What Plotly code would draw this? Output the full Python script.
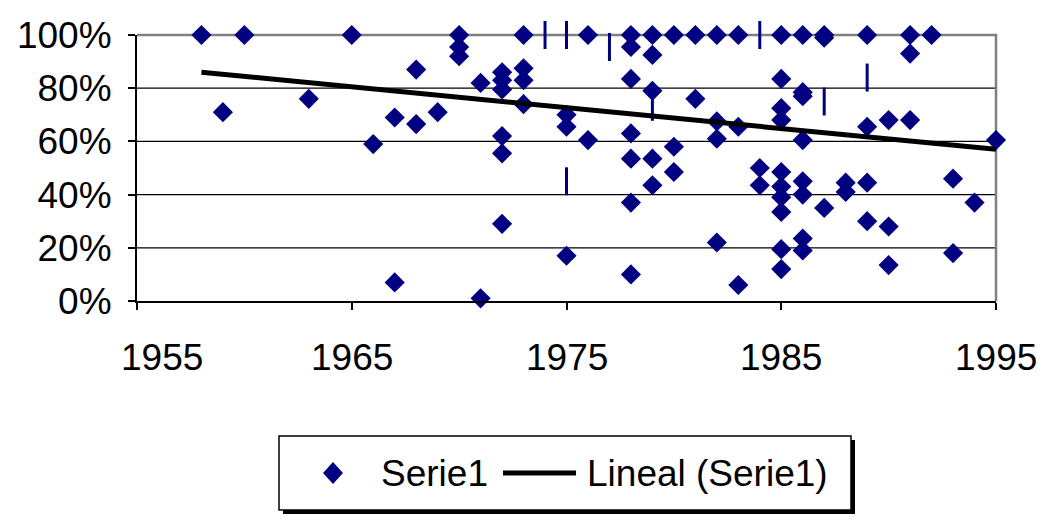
import plotly.graph_objects as go

W, H = 1045, 517

# Serie1: one entry per point (year, share in %)
years = [
    1958, 1959, 1960, 1963, 1965, 1966,
    1967, 1967,
    1968, 1968,
    1969,
    1970, 1970, 1970,
    1971, 1971,
    1972, 1972, 1972, 1972, 1972, 1972,
    1973, 1973, 1973, 1973,
    1975, 1975, 1975,
    1976, 1976,
    1978, 1978, 1978, 1978, 1978, 1978, 1978,
    1979, 1979, 1979, 1979, 1979,
    1980, 1980, 1980,
    1981, 1981,
    1982, 1982, 1982, 1982,
    1983, 1983, 1983,
    1984, 1984,
    1985, 1985, 1985, 1985, 1985, 1985, 1985, 1985, 1985, 1985,
    1986, 1986, 1986, 1986, 1986, 1986, 1986, 1986,
    1987, 1987, 1987,
    1988, 1988,
    1989, 1989, 1989, 1989,
    1990, 1990, 1990,
    1991, 1991, 1991,
    1992,
    1993, 1993,
    1994,
    1995,
]
values = [
    100, 71, 100, 76, 100, 59,
    69, 7,
    87, 66.5,
    71,
    100, 95.5, 92,
    82, 1,
    86, 83, 79.5, 62, 55.5, 29,
    100, 87.5, 83, 74,
    70, 65.5, 17,
    100, 60.5,
    100, 95.5, 83.5, 63, 53.5, 37, 10,
    100, 92.5, 79, 53.5, 43.5,
    100, 58, 48.5,
    100, 76,
    100, 67.5, 61, 22,
    100, 65.5, 6,
    50, 43.5,
    100, 83.5, 72.5, 68, 48.5, 43, 39, 33.5, 19.5, 12,
    100, 78.5, 77, 60.5, 45, 40, 23.5, 19,
    100, 99, 35,
    44.5, 41,
    100, 65.5, 44.5, 30,
    68, 28, 13.5,
    100, 93, 68,
    100,
    46, 18,
    37,
    60.5,
]

# points shown with a short vertical dash
dash_years = [1974, 1975, 1975, 1977, 1979, 1984, 1987, 1989]
dash_values = [100, 100, 45, 95.5, 73, 100, 75, 84]

# linear trend line of Serie1 (end points)
trend_years = [1958, 1995]
trend_values = [86, 57]

x_ticks = [1955, 1965, 1975, 1985, 1995]
y_ticks = [0, 20, 40, 60, 80, 100]
y_grid = [20, 40, 60, 80]
series_name = "Serie1"
trend_name = "Lineal (Serie1)"

NAVY = "#000080"
FONT = "Liberation Sans, Arial, sans-serif"
FS = 37


def px(x):
    return x / W


def py(y):
    return 1 - y / H


# plot area in pixels
L, R, T, B = 137, 996, 35, 301

fig = go.Figure()
fig.add_trace(go.Scatter(
    x=years, y=values, mode="markers", name=series_name,
    marker=dict(symbol="diamond", size=15.5, color=NAVY, line=dict(width=0)),
    cliponaxis=False, showlegend=False,
))
fig.add_trace(go.Scatter(
    x=dash_years, y=dash_values, mode="markers",
    marker=dict(symbol="line-ns", size=20, color=NAVY, line=dict(width=3, color=NAVY)),
    cliponaxis=False, showlegend=False,
))
fig.add_trace(go.Scatter(
    x=trend_years, y=trend_values, mode="lines", name=trend_name,
    line=dict(color="black", width=5), showlegend=False,
))

shapes = []
# horizontal gridlines
for g in y_grid:
    shapes.append(dict(type="line", xref="x domain", yref="y", x0=0, x1=1, y0=g, y1=g,
                       line=dict(color="black", width=1.3), layer="below"))
# gray plot-area border (top and right)
shapes.append(dict(type="path", xref="x domain", yref="y domain",
                   path="M 0,1 L 1,1 L 1,0",
                   line=dict(color="#808080", width=2.5), layer="below"))

# legend box with shadow
lx0, lx1, ly0, ly1 = 279, 851, 436, 510
shapes.append(dict(type="rect", xref="paper", yref="paper",
                   x0=px(lx0 + 4), x1=px(lx1 + 4), y0=py(ly1 + 4), y1=py(ly0 + 4),
                   line=dict(width=0), fillcolor="black"))
shapes.append(dict(type="rect", xref="paper", yref="paper",
                   x0=px(lx0), x1=px(lx1), y0=py(ly1), y1=py(ly0),
                   line=dict(color="black", width=1.5), fillcolor="white"))
cy = 473
dcx, dhw, dhh = 333, 10, 11
shapes.append(dict(type="path", xref="paper", yref="paper",
                   path=(f"M {px(dcx - dhw)},{py(cy)} L {px(dcx)},{py(cy - dhh)} "
                         f"L {px(dcx + dhw)},{py(cy)} L {px(dcx)},{py(cy + dhh)} Z"),
                   line=dict(width=0), fillcolor=NAVY))
shapes.append(dict(type="line", xref="paper", yref="paper",
                   x0=px(503), x1=px(576), y0=py(cy), y1=py(cy),
                   line=dict(color="black", width=5)))

annotations = []
for i, t in enumerate(x_ticks):
    a = dict(x=t, xref="x", y=py(357), yref="paper", text=str(t), showarrow=False,
             font=dict(family=FONT, size=FS, color="black"), yanchor="middle")
    if i == 0:
        a.update(xanchor="left", xshift=-18)
    else:
        a.update(xanchor="center")
    annotations.append(a)
annotations.append(dict(x=px(379), y=py(cy), xref="paper", yref="paper", text=series_name,
                        showarrow=False, xanchor="left", yanchor="middle",
                        font=dict(family=FONT, size=FS, color="black")))
annotations.append(dict(x=px(585), y=py(cy), xref="paper", yref="paper", text=trend_name,
                        showarrow=False, xanchor="left", yanchor="middle",
                        font=dict(family=FONT, size=FS, color="black")))

fig.update_layout(
    template="none",
    width=W, height=H,
    margin=dict(l=0, r=0, t=0, b=0, autoexpand=False),
    paper_bgcolor="white", plot_bgcolor="white",
    showlegend=False,
    font=dict(family=FONT, size=FS, color="black"),
    xaxis=dict(domain=[px(L), px(R)], range=[1955, 1995], tickvals=x_ticks,
               showticklabels=False, ticks="outside", ticklen=7, tickwidth=1.5,
               tickcolor="black", showline=True, linecolor="black", linewidth=2,
               showgrid=False, zeroline=False, fixedrange=True, automargin=False),
    yaxis=dict(domain=[py(B), py(T)], range=[0, 100], tickvals=y_ticks,
               ticktext=[f"{v}%" for v in y_ticks], ticks="outside", ticklen=7,
               tickwidth=1.5, tickcolor="black", showline=True, linecolor="black",
               linewidth=2, showgrid=False, zeroline=False, ticklabelstandoff=9,
               tickfont=dict(family=FONT, size=FS, color="black"), fixedrange=True,
               automargin=False),
    shapes=shapes,
    annotations=annotations,
)

fig.write_html("out.html")
